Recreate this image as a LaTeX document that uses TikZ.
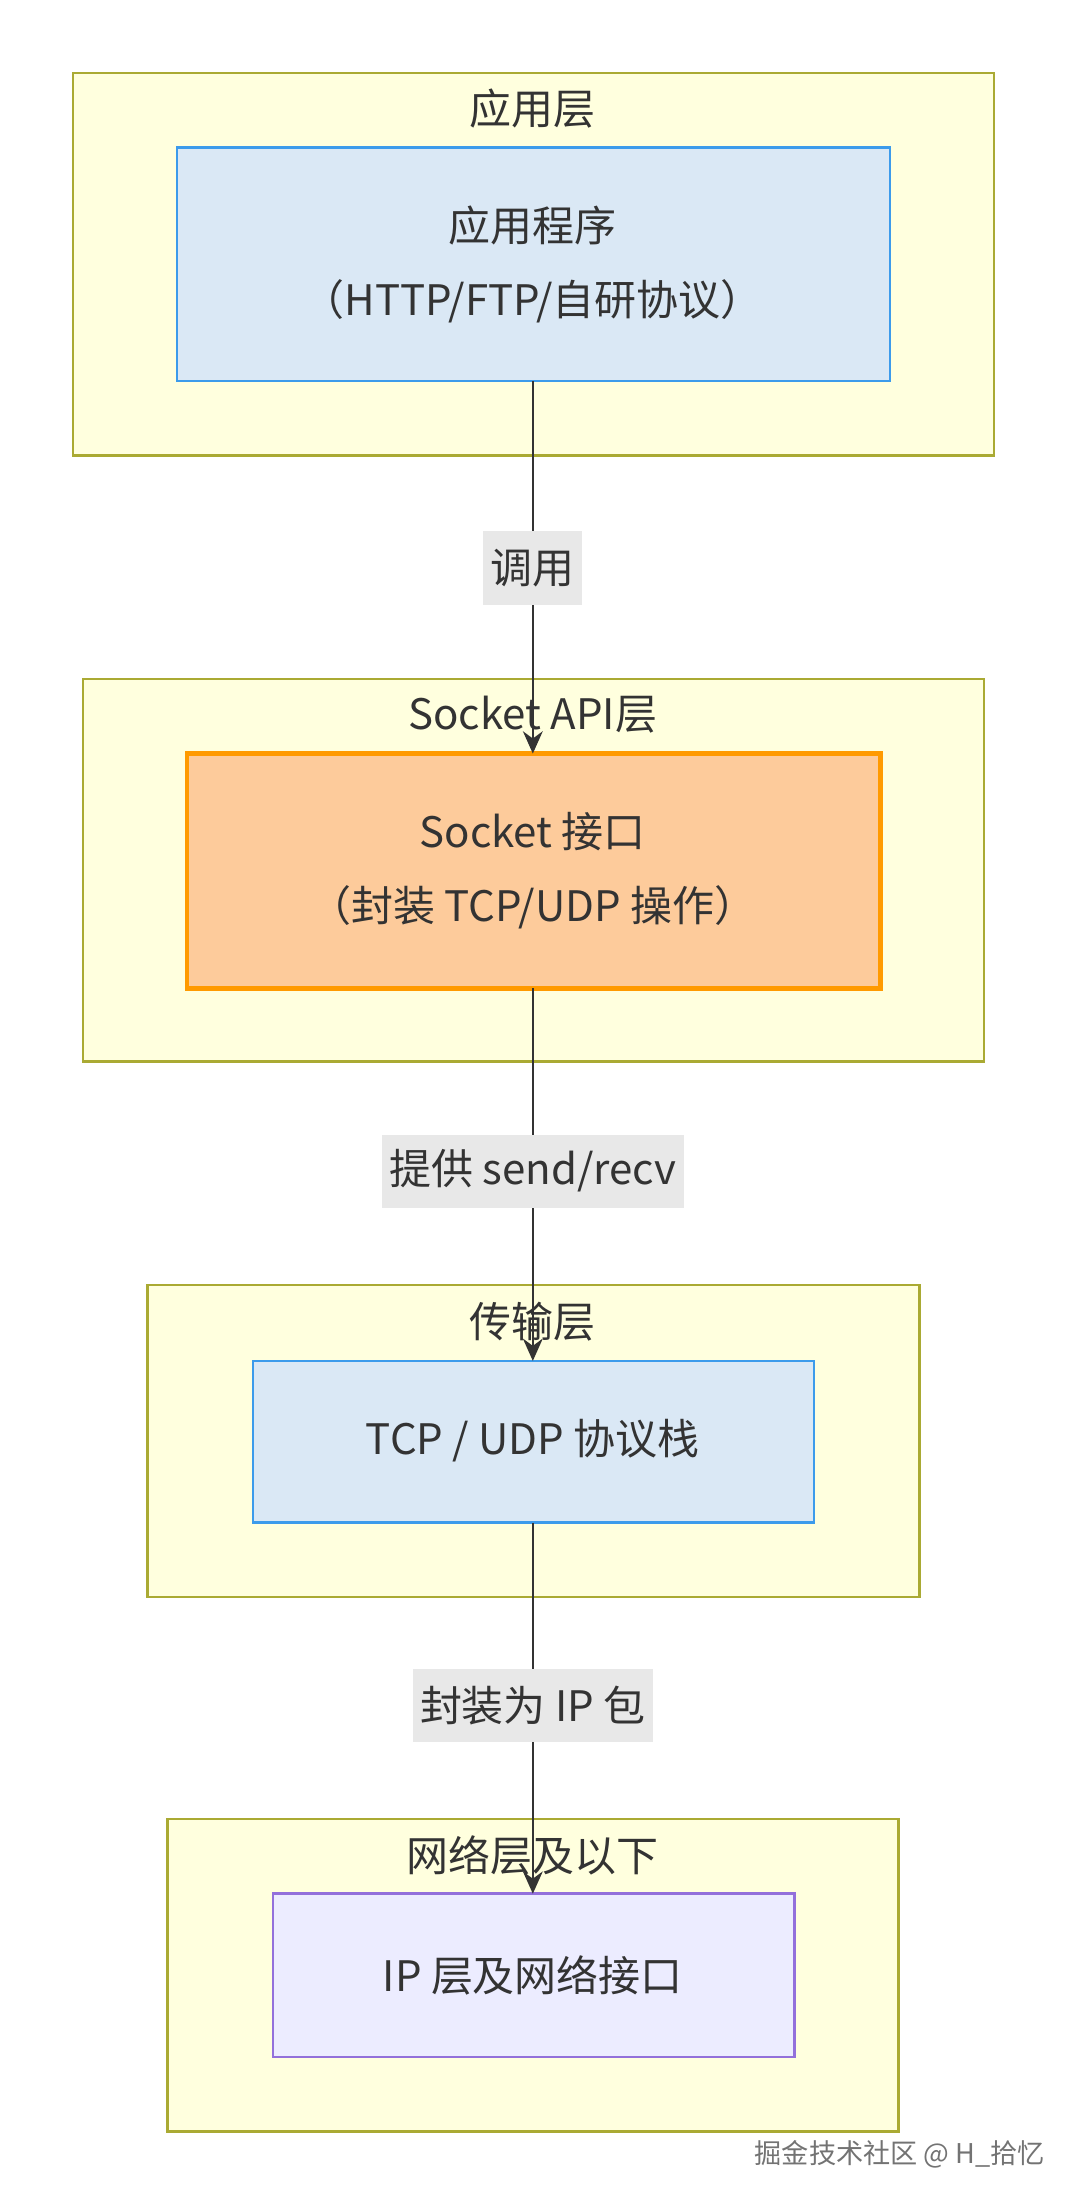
\documentclass[tikz,border=0pt]{standalone}
\usepackage{fontspec}
\setmainfont{Noto Sans CJK SC}
\usetikzlibrary{arrows.meta}
\definecolor{layerfill}{HTML}{FFFFDE}
\definecolor{layerdraw}{HTML}{AAAA33}
\definecolor{bluefill}{HTML}{DAE8F5}
\definecolor{bluedraw}{HTML}{3C9BEB}
\definecolor{orangefill}{HTML}{FDCB9B}
\definecolor{orangedraw}{HTML}{FF9A00}
\definecolor{lilacfill}{HTML}{ECECFF}
\definecolor{lilacdraw}{HTML}{9370DB}
\definecolor{lblfill}{HTML}{E8E8E8}
\begin{document}
\begin{tikzpicture}
[x=0.02cm,y=-0.02cm]
\tikzset{layer/.style={draw=layerdraw,fill=layerfill,line width=1pt}}
\tikzset{ttl/.style={font=\fontsize{17}{20}\selectfont,text=black!80}}
\tikzset{box/.style={font=\fontsize{17}{30}\selectfont,text=black!80,align=center}}
\tikzset{lbl/.style={fill=lblfill,font=\fontsize{17}{20}\selectfont,text=black!80,inner sep=3pt,minimum height=1.04cm}}
\useasboundingbox (0,0) rectangle (759,1567);
% layers
\draw [layer] (52,52) rectangle (707,324);
\draw [layer] (59,483) rectangle (700,755);
\draw [layer] (105,914) rectangle (654,1136);
\draw [layer] (119,1294) rectangle (639,1516);
\node [ttl] (t1) at (379,77) {应用层};
\node [ttl] (t2) at (379,508) {Socket API层};
\node [ttl] (t3) at (379,940) {传输层};
\node [ttl] (t4) at (379,1320) {网络层及以下};
% inner boxes
\draw [draw=bluedraw,fill=bluefill,line width=1pt] (126,105) rectangle (633,271);
\node [box] (app) at (379,188) {应用程序\\（HTTP/FTP/自研协议）};
\draw [draw=orangedraw,fill=orangefill,line width=2pt] (133,536) rectangle (626,703);
\node [box] (sock) at (379,619) {Socket 接口\\（封装 TCP/UDP 操作）};
\draw [draw=bluedraw,fill=bluefill,line width=1pt] (180,968) rectangle (579,1083);
\node [box] (tcp) at (379,1025) {TCP / UDP 协议栈};
\draw [draw=lilacdraw,fill=lilacfill,line width=1pt] (194,1347) rectangle (565,1463);
\node [box] (ip) at (379,1405) {IP 层及网络接口};
\coordinate (a1) at (379,271);
\coordinate (a2) at (379,536);
\coordinate (b1) at (379,703);
\coordinate (b2) at (379,968);
\coordinate (c1) at (379,1083);
\coordinate (c2) at (379,1347);
% arrows
\foreach \from/\to in {a1/a2,b1/b2,c1/c2}
	\draw [-{Stealth[length=9pt,width=8pt]},line width=1pt,black!80] (\from) -- (\to);
\node [lbl] (l1) at (379,404) {调用};
\node [lbl] (l2) at (379,833) {提供 send/recv};
\node [lbl] (l3) at (379,1213) {封装为 IP 包};
\node [font=\fontsize{11}{13}\selectfont,text=black!55] (wm) at (640,1532) {掘金技术社区 @ H\_拾忆};
\end{tikzpicture}
\end{document}
